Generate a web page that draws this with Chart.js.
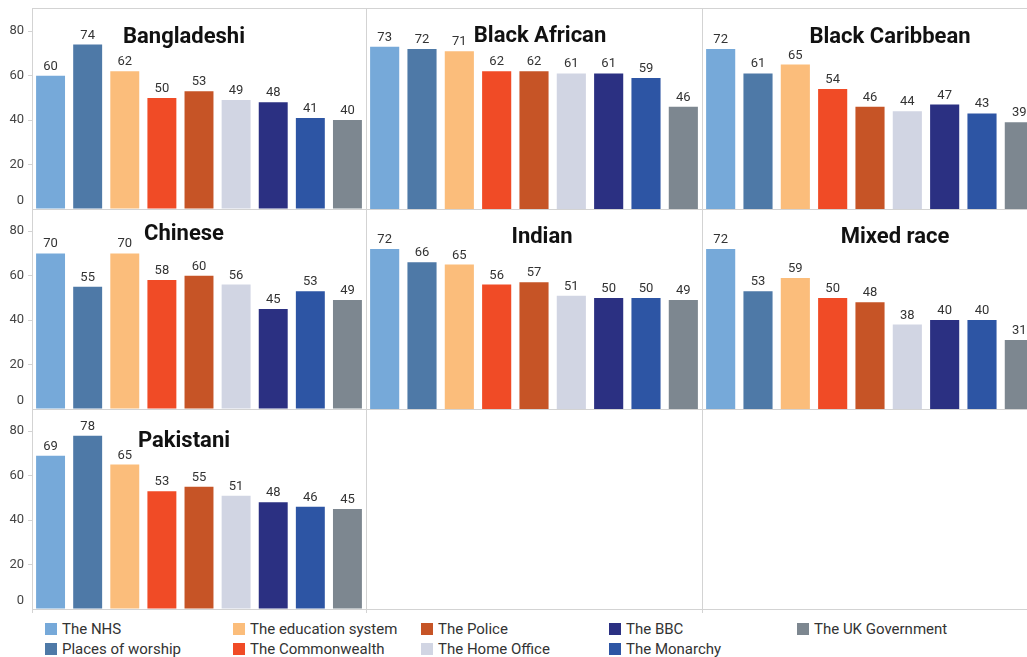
<!DOCTYPE html>
<html>
<head>
<meta charset="utf-8">
<title>Trust in institutions by ethnic group</title>
<script src="https://cdn.jsdelivr.net/npm/chart.js@4.4.1/dist/chart.umd.min.js"></script>
<style>
  html, body { margin: 0; padding: 0; background: #fff; overflow: hidden; }
  #stage { position: relative; width: 1027px; height: 657px; overflow: hidden; }
  #stage canvas { position: absolute; }
  .hl, .vl { position: absolute; background: #d3d3d3; }
  .hl { height: 1px; }
  .vl { width: 1px; }
  #legend {
    position: absolute; left: 45px; top: 619px;
    display: grid; grid-template-rows: 20px 20px; grid-auto-flow: column;
    grid-auto-columns: 188px;
    font: 15px Roboto, "Noto Sans", sans-serif; color: #333;
  }
  .item { display: flex; align-items: center; white-space: nowrap; }
  .sw { width: 12px; height: 12px; margin-right: 5px; flex: none; }
</style>
</head>
<body>
<div id="stage"><div id="legend"></div></div>
<script>
// ---- data ----
const institutions = [
  'The NHS', 'Places of worship', 'The education system', 'The Commonwealth',
  'The Police', 'The Home Office', 'The BBC', 'The Monarchy', 'The UK Government'
];
const groups = ['Bangladeshi', 'Black African', 'Black Caribbean', 'Chinese', 'Indian', 'Mixed race', 'Pakistani'];
const bangladeshi    = [60, 74, 62, 50, 53, 49, 48, 41, 40];
const blackAfrican   = [73, 72, 71, 62, 62, 61, 61, 59, 46];
const blackCaribbean = [72, 61, 65, 54, 46, 44, 47, 43, 39];
const chinese        = [70, 55, 70, 58, 60, 56, 45, 53, 49];
const indian         = [72, 66, 65, 56, 57, 51, 50, 50, 49];
const mixedRace      = [72, 53, 59, 50, 48, 38, 40, 40, 31];
const pakistani      = [69, 78, 65, 53, 55, 51, 48, 46, 45];
const yTicks = [0, 20, 40, 60, 80];

const seriesByGroup = [bangladeshi, blackAfrican, blackCaribbean, chinese, indian, mixedRace, pakistani];

// ---- styling ----
const palette = ['#76a9d9', '#4e79a7', '#fbbd7b', '#f04b26', '#c65426', '#d1d5e3', '#2b3082', '#2d55a4', '#7d8790'];
const COL_X = [32, 366, 702];      // left edge of each panel's plot area
const COL_W = [334, 336, 336];
const ROW_Y = [9, 209, 409];       // top edge of each panel's plot area
const ROW_H = 200;
const AXIS_W = 32;
const Y_MAX = 90;
// title anchor inside each panel: [x offset of centre, baseline offset]
const titleAnchor = [[152, 34], [174, 33], [188, 34], [152, 31], [176, 34], [193, 34], [152, 38]];

const stage = document.getElementById('stage');

// panel frame lines
function line(cls, x, y, len) {
  const d = document.createElement('div');
  d.className = cls;
  d.style.left = x + 'px';
  d.style.top = y + 'px';
  if (cls === 'hl') d.style.width = len + 'px'; else d.style.height = len + 'px';
  stage.appendChild(d);
}
line('hl', AXIS_W, 8, 1040 - AXIS_W);
ROW_Y.forEach(y => line('hl', AXIS_W, y + ROW_H, 1040 - AXIS_W));
line('vl', AXIS_W, 8, ROW_Y[2] + ROW_H - 8 + 4);
line('vl', COL_X[1], 8, ROW_Y[2] + ROW_H - 8 + 4);
line('vl', COL_X[2], 8, ROW_Y[2] + ROW_H - 8 + 4);

// value labels above bars
const valueLabels = {
  id: 'valueLabels',
  afterDatasetsDraw(chart) {
    const ctx = chart.ctx;
    const meta = chart.getDatasetMeta(0);
    const vals = chart.data.datasets[0].data;
    ctx.save();
    ctx.font = '13px Roboto, "Noto Sans", sans-serif';
    ctx.fillStyle = '#333';
    ctx.textAlign = 'center';
    ctx.textBaseline = 'alphabetic';
    meta.data.forEach((bar, i) => ctx.fillText(String(vals[i]), bar.x, bar.y - 6));
    ctx.restore();
  }
};

// group name written inside each panel
const panelTitle = {
  id: 'panelTitle',
  afterDraw(chart, args, opts) {
    const ctx = chart.ctx;
    const a = chart.chartArea;
    ctx.save();
    ctx.font = 'bold 22px Roboto, "Noto Sans", sans-serif';
    ctx.fillStyle = '#111';
    ctx.textAlign = 'center';
    ctx.textBaseline = 'alphabetic';
    ctx.fillText(opts.text, a.left + opts.dx, a.top + opts.dy);
    ctx.restore();
  }
};

seriesByGroup.forEach((values, idx) => {
  const col = idx % 3, row = Math.floor(idx / 3);
  const withAxis = col === 0;
  const left = withAxis ? 0 : COL_X[col];
  const width = withAxis ? COL_X[0] + COL_W[0] : COL_W[col];
  const canvas = document.createElement('canvas');
  canvas.width = width;
  canvas.height = ROW_H;
  canvas.style.left = left + 'px';
  canvas.style.top = ROW_Y[row] + 'px';
  canvas.style.width = width + 'px';
  canvas.style.height = ROW_H + 'px';
  stage.appendChild(canvas);

  const yScale = {
    display: withAxis,
    min: 0,
    max: Y_MAX,
    afterBuildTicks: s => { s.ticks = yTicks.map(v => ({ value: v })); },
    ticks: {
      padding: 4,
      color: '#444',
      font: { family: 'Roboto', size: 13 },
      callback: v => (v === 0 ? ['0', ''] : String(v))
    },
    grid: { drawOnChartArea: false, tickLength: 4, color: '#d3d3d3' },
    border: { display: false }
  };
  if (withAxis) {
    yScale.afterFit = s => { s.width = AXIS_W; s.paddingTop = 0; s.paddingBottom = 0; };
  }

  new Chart(canvas, {
    type: 'bar',
    data: {
      labels: institutions,
      datasets: [{
        data: values,
        backgroundColor: palette,
        borderWidth: 0,
        barPercentage: 0.78,
        categoryPercentage: 1
      }]
    },
    options: {
      responsive: false,
      animation: false,
      devicePixelRatio: 1,
      layout: { padding: 0 },
      plugins: {
        legend: { display: false },
        tooltip: { enabled: false },
        panelTitle: { text: groups[idx], dx: titleAnchor[idx][0], dy: titleAnchor[idx][1] }
      },
      scales: {
        x: { display: false },
        y: yScale
      }
    },
    plugins: [valueLabels, panelTitle]
  });
});

// legend, filled column by column
const legend = document.getElementById('legend');
institutions.forEach((name, i) => {
  const item = document.createElement('div');
  item.className = 'item';
  const sw = document.createElement('span');
  sw.className = 'sw';
  sw.style.background = palette[i];
  const label = document.createElement('span');
  label.textContent = name;
  item.appendChild(sw);
  item.appendChild(label);
  legend.appendChild(item);
});
</script>
</body>
</html>
